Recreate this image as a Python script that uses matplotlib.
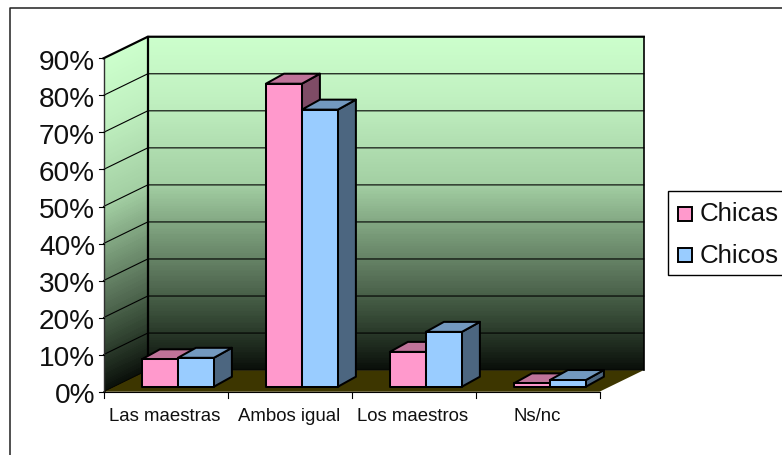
import matplotlib
matplotlib.use('Agg')
import matplotlib.pyplot as plt
import numpy as np
from matplotlib.colors import LinearSegmentedColormap
from matplotlib.patches import Polygon, Rectangle

categories = ['Las maestras', 'Ambos igual', 'Los maestros', 'Ns/nc']
chicas = [7.4, 81.8, 9.4, 0.9]
chicos = [7.8, 74.8, 14.8, 1.8]
y_ticks = [0, 10, 20, 30, 40, 50, 60, 70, 80, 90]
y_labels = ['0%', '10%', '20%', '30%', '40%', '50%', '60%', '70%', '80%', '90%']
series_names = ['Chicas', 'Chicos']

plt.rcParams['font.family'] = ['Liberation Sans', 'DejaVu Sans']

W, H = 782, 456
PX_X = 124.0   # pixels per category
PX_Y = 37.04   # pixels per 10%


def px(x, y):
    # figure pixel -> data coordinates of the chart axes
    return (x - 103.5) / PX_X, (392.7 - y) / PX_Y * 10


fig = plt.figure(figsize=(W / 100, H / 100), dpi=100)
ax = fig.add_axes([0, 0, 1, 1])
ax.set_xlim(px(0, 0)[0], px(W, 0)[0])
ax.set_ylim(px(0, H)[1], px(0, 0)[1])
ax.axis('off')

# depth of the box and of the bars, in data units
box_dx, box_dy = 44.3 / PX_X, 21.6 / PX_Y * 10
bar_dx, bar_dy = 18 / PX_X, 10 / PX_Y * 10
bar_x0, bar_y0 = 6 / PX_X, 5 / PX_Y * 10
bar_w = 36 / PX_X
top = y_ticks[-1]
n_cat = len(categories)

# outer frame
ax.plot(*zip(px(9.5, H), px(9.5, 8.8), px(W, 8.8)), color='#202020', lw=1.1)

wall_cmap = LinearSegmentedColormap.from_list('wall', [
    (0.0, '#0a0f0a'), (0.07, '#1e2a1e'), (0.17, '#3a4f3a'), (0.27, '#566f56'),
    (0.37, '#6f8f6f'), (0.557, '#a3cfa3'), (0.81, '#c0f0c0'), (1.0, '#ccffcc')])

# gradient of back wall and side wall
rows = np.linspace(0, top, 200)
shade = np.array([rows[:-1] / top])
xx, yy = np.meshgrid([box_dx, n_cat + box_dx], rows + box_dy)
ax.pcolormesh(xx, yy, shade.T, cmap=wall_cmap, vmin=0, vmax=1, zorder=1, linewidth=0)
xx = np.array([[0, box_dx]] * len(rows))
yy = np.column_stack([rows, rows + box_dy])
ax.pcolormesh(xx, yy, shade.T, cmap=wall_cmap, vmin=0, vmax=1, zorder=1, linewidth=0)

# floor
ax.add_patch(Polygon([(0, 0), (n_cat, 0), (n_cat + box_dx, box_dy), (box_dx, box_dy)],
                     facecolor='#3d3600', edgecolor='none', zorder=1))

# gridlines
for t in y_ticks[1:-1]:
    ax.plot([0, box_dx, n_cat + box_dx], [t, t + box_dy, t + box_dy],
            color='black', lw=0.8, zorder=2)
ax.plot([0, box_dx, n_cat + box_dx], [top, top + box_dy, top + box_dy],
        color='black', lw=1.6, zorder=2)
ax.plot([0, box_dx, n_cat + box_dx], [0, box_dy, box_dy], color='black', lw=0.5, zorder=2)
ax.plot([0, 0], [0, top], color='#303030', lw=1, zorder=2)
ax.plot([box_dx, box_dx], [box_dy, top + box_dy], color='black', lw=1.6, zorder=2)
ax.plot([n_cat + box_dx] * 2, [box_dy, top + box_dy], color='black', lw=1.2, zorder=2)

# axes ticks
ax.plot([0, n_cat], [0, 0], color='black', lw=0.8, zorder=2)
for t, lab in zip(y_ticks, y_labels):
    ax.plot([-5 / PX_X, 0], [t, t], color='black', lw=0.8, zorder=2)
    ax.text(-8.5 / PX_X, t - 10.3 / PX_Y * 10, lab, ha='right', va='baseline',
            fontsize=20.2, color='#101010')
for i in range(n_cat + 1):
    ax.plot([i, i], [0, -6 / PX_Y * 10], color='black', lw=0.8, zorder=2)
for i, lab in enumerate(categories):
    ax.text(i + 0.5 - 0.5 / PX_X, -24 / PX_Y * 10, lab, ha='center', va='center',
            fontsize=13.4, color='#101010')


def draw_bar(x, value, face, top_c, side_c, z):
    x0, y0 = x + bar_x0, bar_y0
    y1 = y0 + value
    kw = dict(edgecolor='black', lw=1.45, joinstyle='round', zorder=z)
    ax.add_patch(Polygon([(x0 + bar_w, y0), (x0 + bar_w + bar_dx, y0 + bar_dy),
                          (x0 + bar_w + bar_dx, y1 + bar_dy), (x0 + bar_w, y1)],
                         facecolor=side_c, **kw))
    ax.add_patch(Polygon([(x0, y1), (x0 + bar_w, y1), (x0 + bar_w + bar_dx, y1 + bar_dy),
                          (x0 + bar_dx, y1 + bar_dy)], facecolor=top_c, **kw))
    ax.add_patch(Rectangle((x0, y0), bar_w, value, facecolor=face, **kw))


for i in range(n_cat):
    left = i + 38.4 / PX_X - bar_x0
    draw_bar(left, chicas[i], '#ff99cc', '#bf7399', '#7f4c66', 5)
    draw_bar(left + bar_w, chicos[i], '#99ccff', '#7399bf', '#4c6680', 6)

# legend
lx0, ly0 = px(667.5, 275.5)
lx1, ly1 = px(W + 5, 191.5)
ax.add_patch(Rectangle((lx0, ly0), lx1 - lx0, ly1 - ly0, facecolor='white',
                       edgecolor='black', lw=1, zorder=3))
for name, face, py in zip(series_names, ['#ff99cc', '#99ccff'], [214.5, 256]):
    sx, sy = px(678, py + 7)
    ax.add_patch(Rectangle((sx, sy), 14 / PX_X, 14 / PX_Y * 10, facecolor=face,
                           edgecolor='black', lw=1.4, zorder=4))
    tx, ty = px(700, py)
    ax.text(tx, ty, name, ha='left', va='center', fontsize=18.6, color='#101010', zorder=4)

fig.savefig('out.png', dpi=100)
